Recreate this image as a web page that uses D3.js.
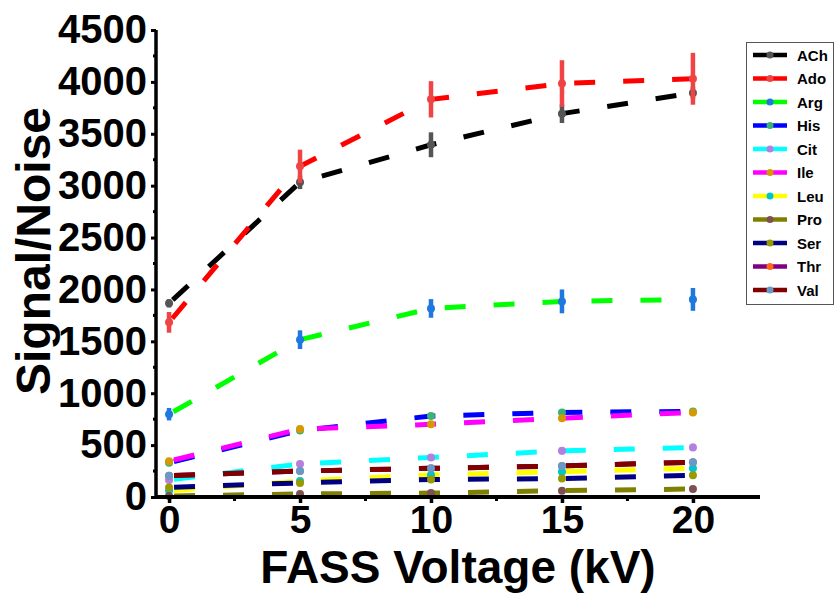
<!DOCTYPE html>
<html>
<head>
<meta charset="utf-8">
<script src="https://cdn.jsdelivr.net/npm/d3@7"></script>
<style>
  html, body { margin: 0; padding: 0; background: #fff; }
  svg { display: block; font-family: "Liberation Sans", Arial, sans-serif; }
</style>
</head>
<body>
<svg id="chart" width="836" height="593"></svg>
<script>
// FASS voltage (kV) at which each analyte was measured
const voltage = [0, 5, 10, 15, 20];

// Signal/noise per analyte and its error
const achSN = [1866, 3032, 3394, 3694, 3894];
const achErr = [40, 65, 120, 90, 60];
const adoSN = [1683, 3187, 3832, 3984, 4030];
const adoErr = [100, 160, 175, 225, 250];
const argSN = [798, 1516, 1817, 1885, 1904];
const argErr = [60, 90, 90, 115, 110];
const hisSN = [330, 640, 780, 815, 825];
const hisErr = [20, 20, 25, 25, 20];
const citSN = [165, 318, 381, 445, 478];
const citErr = [25, 20, 30, 35, 35];
const ileSN = [345, 655, 700, 760, 815];
const ileErr = [15, 15, 15, 15, 15];
const leuSN = [60, 154, 212, 244, 276];
const leuErr = [10, 10, 10, 10, 10];
const proSN = [10, 29, 38, 61, 77];
const proErr = [8, 8, 8, 8, 8];
const serSN = [92, 136, 168, 178, 210];
const serErr = [10, 10, 10, 10, 10];
const thrSN = [205, 250, 276, 299, 335];
const thrErr = [12, 12, 12, 12, 12];
const valSN = [205, 250, 276, 299, 335];
const valErr = [12, 12, 12, 12, 12];

const yTicks = [0, 500, 1000, 1500, 2000, 2500, 3000, 3500, 4000, 4500];
const xTicks = [0, 5, 10, 15, 20];

// name, values, errors, line colour, marker colour
const series = [
  ["ACh", achSN, achErr, "#000000", "#555555"],
  ["Ado", adoSN, adoErr, "#ff0000", "#f04444"],
  ["Arg", argSN, argErr, "#00ff00", "#1e78e0"],
  ["His", hisSN, hisErr, "#0000ff", "#3cb371"],
  ["Cit", citSN, citErr, "#00ffff", "#b57fe0"],
  ["Ile", ileSN, ileErr, "#ff00ff", "#d49a00"],
  ["Leu", leuSN, leuErr, "#ffff00", "#00c5cd"],
  ["Pro", proSN, proErr, "#808000", "#7f5050"],
  ["Ser", serSN, serErr, "#000080", "#999900"],
  ["Thr", thrSN, thrErr, "#800080", "#ff6a10"],
  ["Val", valSN, valErr, "#800000", "#6699cc"]
];

const svg = d3.select("#chart");

const x = d3.scaleLinear().domain([-0.46, 22.56]).range([157, 760]);
const y = d3.scaleLinear().domain([0, 4500]).range([497, 30]);

// Data series: dashed line, then error bars, then markers
const line = d3.line().x(d => x(d[0])).y(d => y(d[1]));
const plot = svg.append("g");
series.forEach(([name, vals, errs, lc, mc]) => {
  const pts = voltage.map((v, i) => [v, vals[i], errs[i]]);
  const g = plot.append("g").attr("class", "series-" + name);
  g.append("path")
    .datum(pts)
    .attr("d", line)
    .attr("fill", "none")
    .attr("stroke", lc)
    .attr("stroke-width", 5)
    .attr("stroke-dasharray", "21 28")
    .attr("stroke-dashoffset", 44);
  g.selectAll("line.err")
    .data(pts)
    .join("line")
    .attr("class", "err")
    .attr("x1", d => x(d[0])).attr("x2", d => x(d[0]))
    .attr("y1", d => y(d[1] - d[2])).attr("y2", d => y(d[1] + d[2]))
    .attr("stroke", mc)
    .attr("stroke-width", 4.5);
  g.selectAll("circle")
    .data(pts)
    .join("circle")
    .attr("cx", d => x(d[0]))
    .attr("cy", d => y(d[1]))
    .attr("r", 4)
    .attr("fill", mc);
});

// Axes
const axes = svg.append("g");
const yAxis = d3.axisLeft(y).tickValues(yTicks).tickFormat(d3.format("d"))
  .tickSize(5).tickPadding(4).tickSizeOuter(0);
const yG = axes.append("g").attr("transform", "translate(156,0)").call(yAxis);
yG.select(".domain").attr("stroke-width", 3.5).attr("d", "M0,30V499");
yG.selectAll(".tick line").attr("stroke-width", 3);
yG.selectAll(".tick text")
  .attr("font-size", 40).attr("font-weight", "bold").attr("fill", "#000");

// y minor ticks
axes.append("g").selectAll("line")
  .data(d3.range(250, 4500, 500))
  .join("line")
  .attr("x1", 153).attr("x2", 156)
  .attr("y1", d => y(d)).attr("y2", d => y(d))
  .attr("stroke", "#000").attr("stroke-width", 3);

const xAxis = d3.axisBottom(x).tickValues(xTicks).tickFormat(d3.format("d"))
  .tickSize(6).tickPadding(2).tickSizeOuter(0);
const xG = axes.append("g").attr("transform", "translate(0,497)").call(xAxis);
xG.select(".domain").attr("stroke-width", 4).attr("d", "M155,0H760");
xG.selectAll(".tick line").attr("stroke-width", 3.5);
xG.selectAll(".tick text")
  .attr("font-size", 39).attr("font-weight", "bold").attr("fill", "#000");

// x minor ticks
axes.append("g").selectAll("line")
  .data([2.5, 7.5, 12.5, 17.5])
  .join("line")
  .attr("x1", d => x(d)).attr("x2", d => x(d))
  .attr("y1", 497).attr("y2", 501)
  .attr("stroke", "#000").attr("stroke-width", 3);

// Axis titles
svg.append("text")
  .attr("transform", "translate(50,251) rotate(-90)")
  .attr("text-anchor", "middle")
  .attr("font-size", 48).attr("font-weight", "bold")
  .text("Signal/Noise");
svg.append("text")
  .attr("x", 458).attr("y", 583)
  .attr("text-anchor", "middle")
  .attr("font-size", 46).attr("font-weight", "bold")
  .text("FASS Voltage (kV)");

// Legend
const legend = svg.append("g");
legend.append("rect")
  .attr("x", 746.5).attr("y", 42.5).attr("width", 87).attr("height", 262)
  .attr("fill", "#fff").attr("stroke", "#555").attr("stroke-width", 1);
series.forEach(([name, , , lc, mc], i) => {
  const ly = 55 + i * 23.5;
  const item = legend.append("g");
  item.append("line")
    .attr("x1", 753).attr("x2", 787).attr("y1", ly).attr("y2", ly)
    .attr("stroke", lc).attr("stroke-width", 4.5);
  item.append("circle").attr("cx", 770).attr("cy", ly).attr("r", 3.5).attr("fill", mc);
  item.append("text")
    .attr("x", 797).attr("y", ly + 5.5)
    .attr("font-size", 15).attr("font-weight", "bold")
    .text(name);
});
</script>
</body>
</html>
